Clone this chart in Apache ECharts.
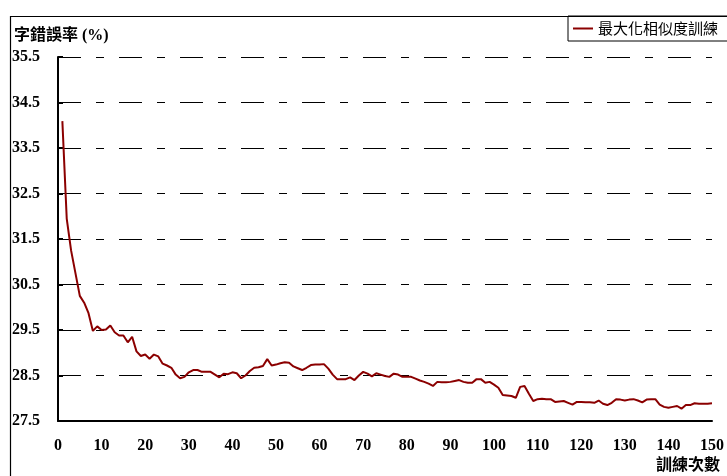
<!DOCTYPE html>
<html>
<head>
<meta charset="utf-8">
<script src="https://cdn.jsdelivr.net/npm/echarts@6/dist/echarts.min.js"></script>
<style>
html,body{margin:0;padding:0;background:#fff;}
#chart{width:727px;height:476px;}
</style>
</head>
<body>
<div id="chart"></div>
<script>
const seriesName = '最大化相似度訓練';
const yTitle = '字錯誤率 (%)';
const xTitle = '訓練次數';
const xTicks = [0, 10, 20, 30, 40, 50, 60, 70, 80, 90, 100, 110, 120, 130, 140, 150];
const yTicks = [27.5, 28.5, 29.5, 30.5, 31.5, 32.5, 33.5, 34.5, 35.5];
const werValues = [
  34.09, 31.95, 31.25, 30.75, 30.25, 30.10, 29.87, 29.48, 29.58, 29.50,
  29.51, 29.60, 29.45, 29.38, 29.38, 29.23, 29.35, 29.03, 28.93, 28.96,
  28.87, 28.96, 28.92, 28.76, 28.72, 28.67, 28.52, 28.44, 28.47, 28.57,
  28.62, 28.62, 28.58, 28.58, 28.58, 28.52, 28.46, 28.54, 28.53, 28.57,
  28.55, 28.44, 28.50, 28.60, 28.67, 28.68, 28.71, 28.86, 28.72, 28.74,
  28.77, 28.79, 28.78, 28.70, 28.66, 28.62, 28.67, 28.73, 28.74, 28.74,
  28.75, 28.65, 28.52, 28.42, 28.42, 28.42, 28.46, 28.40, 28.50, 28.58,
  28.54, 28.48, 28.55, 28.52, 28.49, 28.47, 28.54, 28.52, 28.47, 28.47,
  28.47, 28.43, 28.39, 28.36, 28.32, 28.27, 28.36, 28.35, 28.35, 28.36,
  28.38, 28.40, 28.36, 28.34, 28.34, 28.42, 28.42, 28.34, 28.36, 28.30,
  28.23, 28.07, 28.06, 28.05, 28.01, 28.25, 28.27, 28.10, 27.94, 27.98,
  27.99, 27.98, 27.98, 27.92, 27.93, 27.94, 27.90, 27.86, 27.92, 27.92,
  27.91, 27.91, 27.90, 27.95, 27.88, 27.85, 27.90, 27.98, 27.97, 27.95,
  27.97, 27.98, 27.95, 27.91, 27.97, 27.98, 27.98, 27.86, 27.81, 27.79,
  27.81, 27.83, 27.77, 27.85, 27.85, 27.89, 27.88, 27.88, 27.88, 27.89
];
const epochs = werValues.map((v, i) => i + 1);

const serif = '"Liberation Serif", "Noto Sans CJK TC", serif';
const chart = echarts.init(document.getElementById('chart'), null, {renderer: 'canvas'});
chart.setOption({
  animation: false,
  backgroundColor: '#fff',
  title: {
    text: yTitle, left: 9, top: 23,
    textStyle: {fontFamily: serif, fontWeight: 'bold', fontSize: 16, color: '#000'}
  },
  legend: {
    left: 568, top: 16,
    padding: [5, 30, 5, 5],
    borderColor: '#000', borderWidth: 1, borderRadius: 0,
    itemWidth: 20, itemHeight: 2, itemGap: 6,
    icon: 'rect',
    textStyle: {fontFamily: '"Noto Sans CJK TC", sans-serif', fontSize: 15, color: '#000', padding: [0, 0, 0, 0]},
    data: [seriesName]
  },
  grid: {left: 58, right: 11, top: 57, bottom: 55, containLabel: false},
  xAxis: {
    type: 'value', min: xTicks[0], max: xTicks[xTicks.length - 1], interval: 10,
    axisLine: {show: true, lineStyle: {color: '#000', width: 2}},
    axisTick: {show: false},
    splitLine: {show: false},
    axisLabel: {margin: 17, fontFamily: serif, fontWeight: 'bold', fontSize: 16, color: '#000',
      formatter: v => String(v)}
  },
  yAxis: {
    type: 'value', min: yTicks[0], max: yTicks[yTicks.length - 1], interval: 1,
    axisLine: {show: true, onZero: false, lineStyle: {color: '#000', width: 2}},
    axisTick: {show: true, inside: true, length: 5, lineStyle: {color: '#000', width: 2}},
    splitLine: {show: true, lineStyle: {color: '#000', width: 1, type: [23, 15, 8, 15]}},
    axisLabel: {align: 'left', margin: 46, fontFamily: serif, fontWeight: 'bold', fontSize: 16, color: '#000',
      formatter: v => v.toFixed(1)}
  },
  graphic: [
    {type: 'rect', shape: {x: 10.5, y: 16.5, width: 800, height: 600},
     style: {fill: 'none', stroke: '#000', lineWidth: 1.2}, silent: true, z: 100},
    {type: 'text', right: 7, top: 458,
     style: {text: xTitle, fontFamily: serif, fontWeight: 'bold', fontSize: 16, fill: '#000'}}
  ],
  series: [{
    name: seriesName, type: 'line',
    data: epochs.map((e, i) => [e, werValues[i]]),
    symbol: 'none', showSymbol: false,
    lineStyle: {color: '#8B0000', width: 2},
    itemStyle: {color: '#8B0000'}
  }]
});
</script>
</body>
</html>
